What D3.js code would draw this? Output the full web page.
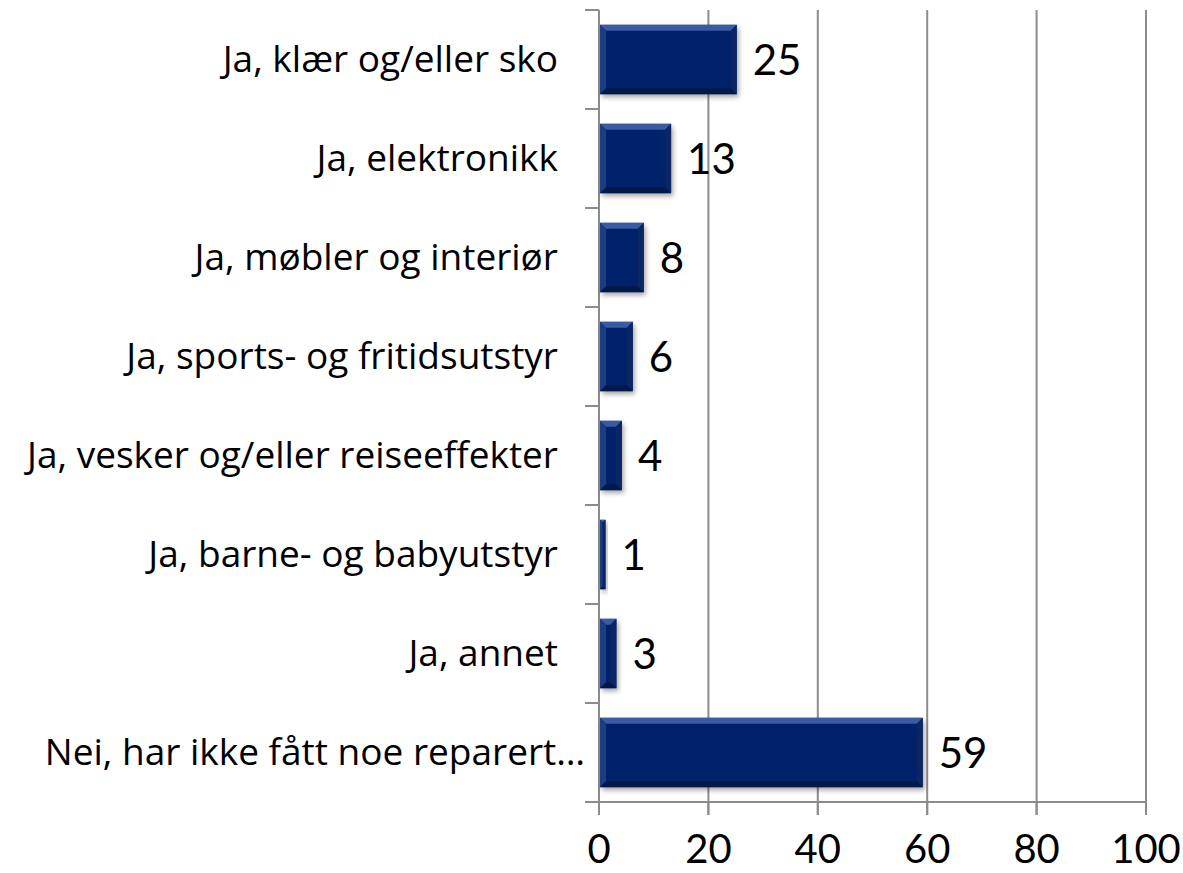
<!DOCTYPE html>
<html>
<head>
<meta charset="utf-8">
<script src="https://cdn.jsdelivr.net/npm/d3@7"></script>
<style>
html,body{margin:0;padding:0;background:#fff;}
svg{display:block;}
</style>
</head>
<body>
<script>
const categories = [
  "Ja, klær og/eller sko",
  "Ja, elektronikk",
  "Ja, møbler og interiør",
  "Ja, sports- og fritidsutstyr",
  "Ja, vesker og/eller reiseeffekter",
  "Ja, barne- og babyutstyr",
  "Ja, annet",
  "Nei, har ikke fått noe reparert…"
];
const values = [25, 13, 8, 6, 4, 1, 3, 59];
const xTicks = [0, 20, 40, 60, 80, 100];

const W = 1183, H = 873;
const svg = d3.select("body").append("svg").attr("width", W).attr("height", H);

const x = d3.scaleLinear().domain([0, 100]).range([599, 1146]);
const y = d3.scaleBand().domain(categories).range([10, 802]).paddingInner(0.3).paddingOuter(0.15);

const defs = svg.append("defs");
const f = defs.append("filter").attr("id", "shadow").attr("x", "-20%").attr("y", "-20%").attr("width", "150%").attr("height", "150%");
f.append("feDropShadow").attr("dx", 2).attr("dy", 3).attr("stdDeviation", 2.5).attr("flood-color", "#000").attr("flood-opacity", 0.35);

// gridlines
svg.append("g").selectAll("line").data(xTicks.slice(1)).join("line")
  .attr("x1", d => x(d)).attr("x2", d => x(d))
  .attr("y1", 10).attr("y2", 815)
  .attr("stroke", "#8c8c8c").attr("stroke-width", 2);

// bottom axis line + ticks
svg.append("line").attr("x1", 585).attr("x2", x(100)).attr("y1", 802).attr("y2", 802)
  .attr("stroke", "#8c8c8c").attr("stroke-width", 2);
svg.append("g").selectAll("line").data(xTicks).join("line")
  .attr("x1", d => x(d)).attr("x2", d => x(d)).attr("y1", 802).attr("y2", 815)
  .attr("stroke", "#8c8c8c").attr("stroke-width", 2);

// left axis line + ticks at band boundaries
svg.append("line").attr("x1", x(0)).attr("x2", x(0)).attr("y1", 10).attr("y2", 815)
  .attr("stroke", "#8c8c8c").attr("stroke-width", 2);
const bounds = d3.range(categories.length + 1).map(i => 10 + i * (792 / categories.length));
svg.append("g").selectAll("line").data(bounds).join("line")
  .attr("x1", 585).attr("x2", x(0)).attr("y1", d => d).attr("y2", d => d)
  .attr("stroke", "#8c8c8c").attr("stroke-width", 2);

// bars with bevel
const data = categories.map((c, i) => ({c, v: values[i]}));
const bars = svg.append("g").selectAll("g").data(data).join("g");
bars.append("rect")
  .attr("x", x(0) + 1).attr("y", d => y(d.c))
  .attr("width", d => x(d.v) - x(0)).attr("height", y.bandwidth())
  .attr("fill", "#06246a").attr("filter", "url(#shadow)");
bars.each(function(d) {
  const g = d3.select(this);
  const x0 = x(0) + 1, x1 = x(d.v) + 1, y0 = y(d.c), y1 = y0 + y.bandwidth();
  const b = Math.min(6, (x1 - x0) / 2);
  const poly = (pts, col) => g.append("polygon").attr("points", pts.map(p => p.join(",")).join(" ")).attr("fill", col);
  poly([[x0, y0], [x1, y0], [x1 - b, y0 + b], [x0 + b, y0 + b]], "#3a5aa3");
  poly([[x0, y0], [x0 + b, y0 + b], [x0 + b, y1 - b], [x0, y1]], "#1c3c84");
  poly([[x1, y0], [x1, y1], [x1 - b, y1 - b], [x1 - b, y0 + b]], "#0b2663");
  poly([[x0, y1], [x0 + b, y1 - b], [x1 - b, y1 - b], [x1, y1]], "#021849");
});

// value labels
svg.append("g").selectAll("text").data(data).join("text")
  .attr("x", d => x(d.v) + 17).attr("y", d => y(d.c) + y.bandwidth() / 2)
  .attr("dy", "0.36em")
  .attr("font-family", "Lato, sans-serif").attr("font-size", 42)
  .attr("fill", "#000")
  .text(d => d.v);

// category labels
svg.append("g").selectAll("text").data(data).join("text")
  .attr("x", d => d.c.endsWith("…") ? 585 : 558)
  .attr("y", d => y(d.c) + y.bandwidth() / 2)
  .attr("dy", "0.35em").attr("text-anchor", "end")
  .attr("font-family", "'Open Sans', sans-serif").attr("font-size", 37).attr("fill", "#000")
  .text(d => d.c);

// x tick labels
svg.append("g").selectAll("text").data(xTicks).join("text")
  .attr("x", d => x(d)).attr("y", 863).attr("text-anchor", "middle")
  .attr("font-family", "Lato, sans-serif").attr("font-size", 40)
  .attr("fill", "#000")
  .text(d => d);
</script>
</body>
</html>
